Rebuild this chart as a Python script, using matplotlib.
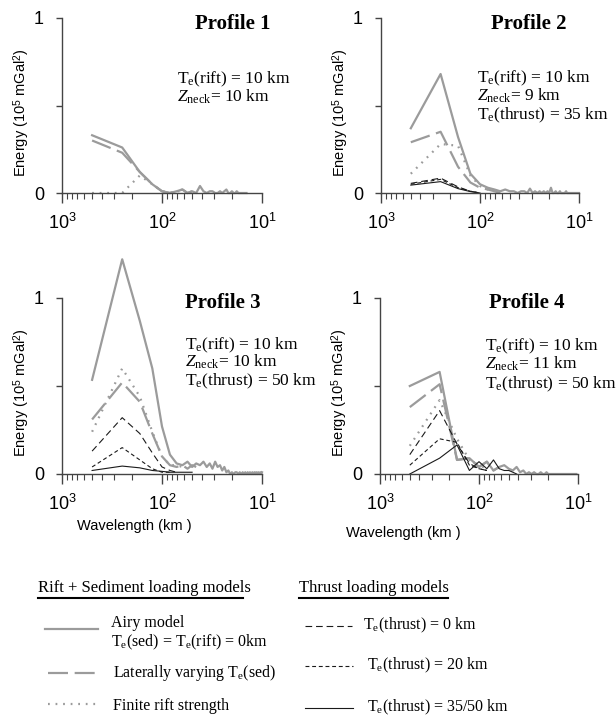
import matplotlib
matplotlib.use("Agg")
import matplotlib.pyplot as plt
from matplotlib.ticker import LogLocator, NullFormatter

plt.rcParams['font.family'] = ['Liberation Sans', 'DejaVu Sans']
plt.rcParams['mathtext.fontset'] = 'custom'
plt.rcParams['mathtext.rm'] = 'Liberation Serif'
plt.rcParams['mathtext.it'] = 'Liberation Serif:italic'

# longitudes de onda (km) de los armonicos del espectro
wavelength = [500, 250, 166.7, 125, 100, 83.3, 71.4, 62.5, 55.6, 50,
              45.5, 41.7, 38.5, 35.7, 33.3, 31.3, 29.4, 27.8, 26.3, 25,
              23.8, 22.7, 21.7, 20.8, 20, 19.2, 18.5, 17.9, 17.2, 16.7,
              16.1, 15.6, 15.2, 14.7, 14.3, 13.9, 13.5, 13.2, 12.8, 12.5,
              12.2, 11.9, 11.6, 11.4, 11.1, 10.9, 10.6, 10.4, 10.2, 10.0]

# energia (10^5 mGal^2) - perfil 1
p1_airy = [0.33, 0.26, 0.12, 0.05, 0.01, 0.0, 0.01, 0.02, 0.0, 0.01,
           0.0, 0.04, 0.01, 0.0, 0.01, 0.01, 0.0, 0.0, 0.01, 0.0,
           0.01, 0.02, 0.0, 0.0, 0.01, 0.0, 0.0, 0.01, 0.0, 0.0,
           0.0, 0.0, 0.0, 0.0, 0.0]
p1_lateral = [0.30, 0.23, 0.12, 0.05, 0.01, 0.0, 0.01, 0.02, 0.0, 0.01]
p1_finite = [0.0, 0.0, 0.10, 0.05, 0.01, 0.0, 0.01, 0.01, 0.0, 0.01]

# perfil 2
p2_airy = [0.37, 0.68, 0.32, 0.11, 0.05, 0.03, 0.02, 0.01, 0.02, 0.01,
           0.01, 0.0, 0.01, 0.01, 0.0, 0.025, 0.0, 0.01, 0.0, 0.01,
           0.0, 0.01, 0.0, 0.01, 0.0, 0.03, 0.0, 0.0, 0.01, 0.0,
           0.0, 0.01, 0.0, 0.0, 0.0, 0.0, 0.01, 0.0, 0.0, 0.0,
           0.0, 0.0, 0.0, 0.0, 0.0, 0.0, 0.0, 0.0, 0.0, 0.0]
p2_lateral = [0.29, 0.35, 0.15, 0.06, 0.03, 0.02, 0.01, 0.0]
p2_finite = [0.11, 0.28, 0.27, 0.10, 0.04, 0.02, 0.01]
p2_thrust0 = [0.055, 0.085, 0.035, 0.01, 0.0]
p2_thrust20 = [0.05, 0.078, 0.03, 0.01, 0.0]
p2_thrust35 = [0.045, 0.065, 0.025, 0.008, 0.0]

# perfil 3
p3_airy = [0.535, 1.22, 0.87, 0.60, 0.27, 0.11, 0.06, 0.05, 0.07, 0.04,
           0.06, 0.05, 0.07, 0.04, 0.06, 0.03, 0.07, 0.04, 0.05, 0.02,
           0.04, 0.01, 0.02, 0.0, 0.01, 0.0, 0.01, 0.01, 0.0, 0.01,
           0.0, 0.01, 0.0, 0.01, 0.0, 0.01, 0.0, 0.01, 0.0, 0.01,
           0.0, 0.01, 0.0, 0.01, 0.0, 0.01, 0.0, 0.01, 0.0, 0.01]
p3_lateral = [0.31, 0.52, 0.41, 0.23, 0.10, 0.05, 0.04, 0.05, 0.03, 0.05, 0.04]
p3_finite = [0.24, 0.60, 0.44, 0.24, 0.10, 0.05, 0.05, 0.04]
p3_thrust0 = [0.13, 0.32, 0.23, 0.12, 0.04, 0.02, 0.01]
p3_thrust20 = [0.04, 0.15, 0.08, 0.03, 0.01, 0.01]
p3_thrust50 = [0.02, 0.045, 0.035, 0.02, 0.015, 0.01, 0.01, 0.01, 0.01, 0.01]

# perfil 4
p4_airy = [0.50, 0.58, 0.08, 0.09, 0.04, 0.07, 0.02, 0.04, 0.05, 0.03,
           0.02, 0.04, 0.01, 0.02, 0.0, 0.01, 0.0, 0.01, 0.0, 0.0,
           0.01, 0.0, 0.0, 0.01, 0.0, 0.0, 0.0, 0.0, 0.0, 0.0,
           0.0, 0.0, 0.0, 0.0, 0.0, 0.0, 0.0, 0.0, 0.0, 0.0,
           0.0, 0.0, 0.0, 0.0, 0.0, 0.0, 0.0, 0.0]
p4_lateral = [0.38, 0.51, 0.08, 0.09, 0.04, 0.07, 0.02, 0.04]
p4_finite = [0.16, 0.42, 0.20, 0.08, 0.05, 0.03]
p4_thrust0 = [0.11, 0.36, 0.17, 0.06, 0.03, 0.02]
p4_thrust20 = [0.05, 0.20, 0.18, 0.05, 0.03, 0.02]
p4_thrust50 = [0.0, 0.09, 0.165, 0.02, 0.07, 0.03, 0.08, 0.03, 0.02, 0.02, 0.01, 0.0]

titles = ["Profile 1", "Profile 2", "Profile 3", "Profile 4"]
notes = [
    [r"T$_\mathregular{e}$(rift) = 10 km", r"$\mathit{Z}_\mathregular{neck}$= 10 km"],
    [r"T$_\mathregular{e}$(rift) = 10 km", r"$\mathit{Z}_\mathregular{neck}$= 9 km",
     r"T$_\mathregular{e}$(thrust) = 35 km"],
    [r"T$_\mathregular{e}$(rift) = 10 km", r"$\mathit{Z}_\mathregular{neck}$= 10 km",
     r"T$_\mathregular{e}$(thrust) = 50 km"],
    [r"T$_\mathregular{e}$(rift) = 10 km", r"$\mathit{Z}_\mathregular{neck}$= 11 km",
     r"T$_\mathregular{e}$(thrust) = 50 km"],
]

GRAY = "#9b9b9b"
BLACK = "#1a1a1a"
AXC = "#444444"
SERIF = ["Liberation Serif", "DejaVu Serif"]

estilos = {
    "airy": dict(color=GRAY, lw=1.6),
    "lateral": dict(color=GRAY, lw=1.6, dashes=(9, 3)),
    "finite": dict(color=GRAY, lw=1.6, dashes=(0.8, 2.6)),
    "thrust0": dict(color=BLACK, lw=0.8, dashes=(6, 3.5)),
    "thrust20": dict(color=BLACK, lw=0.8, dashes=(3.5, 2.5)),
    "thrust35": dict(color=BLACK, lw=0.8),
}

perfiles = [
    {"airy": p1_airy, "lateral": p1_lateral, "finite": p1_finite},
    {"airy": p2_airy, "lateral": p2_lateral, "finite": p2_finite,
     "thrust0": p2_thrust0, "thrust20": p2_thrust20, "thrust35": p2_thrust35},
    {"airy": p3_airy, "lateral": p3_lateral, "finite": p3_finite,
     "thrust0": p3_thrust0, "thrust20": p3_thrust20, "thrust35": p3_thrust50},
    {"airy": p4_airy, "lateral": p4_lateral, "finite": p4_finite,
     "thrust0": p4_thrust0, "thrust20": p4_thrust20, "thrust35": p4_thrust50},
]

W, H = 616, 716
fig = plt.figure(figsize=(W / 100, H / 100), dpi=100)

# fondo para la leyenda (coordenadas en pixeles)
lax = fig.add_axes([0, 0, 1, 1])
lax.set_xlim(0, W)
lax.set_ylim(H, 0)
lax.axis("off")

# (izq, arriba, der, cero) en pixeles
cajas = [(62, 18, 262, 193), (381, 18, 579, 193), (62, 298, 262, 474), (380, 298, 578, 474)]
# titulo (centro x, base y), notas (x izq, base y primera linea, paso)
pos_tit = [(233, 29), (529, 29), (223, 308), (527, 308)]
pos_not = [(177, 83, 19), (477, 82, 18.5), (185, 349, 18), (485, 350, 19)]

for i, (l, t, r, z) in enumerate(cajas):
    ax = fig.add_axes([l / W, 1 - z / H, (r - l) / W, (z - t) / H])
    ax.patch.set_visible(False)
    for key in ["airy", "lateral", "finite", "thrust0", "thrust20", "thrust35"]:
        if key in perfiles[i]:
            y = perfiles[i][key]
            ax.plot(wavelength[:len(y)], y, clip_on=False, **estilos[key])
    ax.set_xscale("log")
    ax.set_xlim(1000, 10)
    ax.set_ylim(0, 1)
    for s in ["top", "right"]:
        ax.spines[s].set_visible(False)
    for s in ["left", "bottom"]:
        ax.spines[s].set_color(AXC)
        ax.spines[s].set_linewidth(1.0)
    ax.spines["left"].set_bounds(0, 1)
    ax.set_yticks([0, 0.5, 1])
    ax.set_yticklabels(["0", "", "1"])
    ax.set_xticks([1000, 100, 10])
    ax.set_xticklabels([r"$\mathregular{10^3}$", r"$\mathregular{10^2}$", r"$\mathregular{10^1}$"])
    ax.xaxis.set_minor_locator(LogLocator(base=10, subs=range(2, 10)))
    ax.xaxis.set_minor_formatter(NullFormatter())
    ax.tick_params(axis="y", length=4, width=1, color=AXC, pad=9, labelsize=13)
    ax.tick_params(axis="x", which="major", length=7, width=1, color=AXC, pad=7, labelsize=13)
    ax.tick_params(axis="x", which="minor", length=4, width=0.8, color=AXC)
    ax.set_ylabel(r"Energy (10$^\mathregular{5}$ mGal$^\mathregular{2}$)", fontsize=10.5)
    ax.yaxis.set_label_coords(-0.15, 0.46)

    tx, ty = pos_tit[i]
    lax.text(tx, ty, titles[i], ha="center", va="baseline", fontsize=15,
             fontweight="bold", family=SERIF)
    nx, ny, paso = pos_not[i]
    for j, linea in enumerate(notes[i]):
        lax.text(nx, ny + j * paso, linea, ha="left", va="baseline", fontsize=12.5,
                 family=SERIF)

lax.text(134, 526, "Wavelength (km )", ha="center", va="center", fontsize=10.5)
lax.text(403, 533, "Wavelength (km )", ha="center", va="center", fontsize=10.5)

# leyenda
lax.text(38, 592, "Rift + Sediment loading models", ha="left", va="baseline",
         fontsize=12, family=SERIF)
lax.plot([38, 243], [598, 598], color="k", lw=1.5)
lax.text(299, 592, "Thrust loading models", ha="left", va="baseline",
         fontsize=12, family=SERIF)
lax.plot([299, 448], [598, 598], color="k", lw=1.5)

lax.plot([45, 98], [629, 629], **estilos["airy"])
lax.text(111, 627, "Airy model", ha="left", va="baseline", fontsize=11.5, family=SERIF)
lax.text(111, 646, r"T$_\mathregular{e}$(sed) = T$_\mathregular{e}$(rift) = 0km",
         ha="left", va="baseline", fontsize=11.5, family=SERIF)
lax.plot([48, 100], [673, 673], **estilos["lateral"])
lax.text(113, 673, r"Laterally varying T$_\mathregular{e}$(sed)", ha="left",
         va="center", fontsize=11.5, family=SERIF)
lax.plot([48, 97], [704, 704], **estilos["finite"])
lax.text(113, 706, "Finite rift strength", ha="left", va="center", fontsize=11.5,
         family=SERIF)

lax.plot([305, 352], [626, 626], **estilos["thrust0"])
lax.text(363, 625, r"T$_\mathregular{e}$(thrust) = 0 km", ha="left", va="center",
         fontsize=11.5, family=SERIF)
lax.plot([305, 353], [666, 666], **estilos["thrust20"])
lax.text(367, 665, r"T$_\mathregular{e}$(thrust) = 20 km", ha="left", va="center",
         fontsize=11.5, family=SERIF)
lax.plot([305, 353], [708, 708], **estilos["thrust35"])
lax.text(367, 707, r"T$_\mathregular{e}$(thrust) = 35/50 km", ha="left", va="center",
         fontsize=11.5, family=SERIF)

fig.savefig("out.png", dpi=100)
